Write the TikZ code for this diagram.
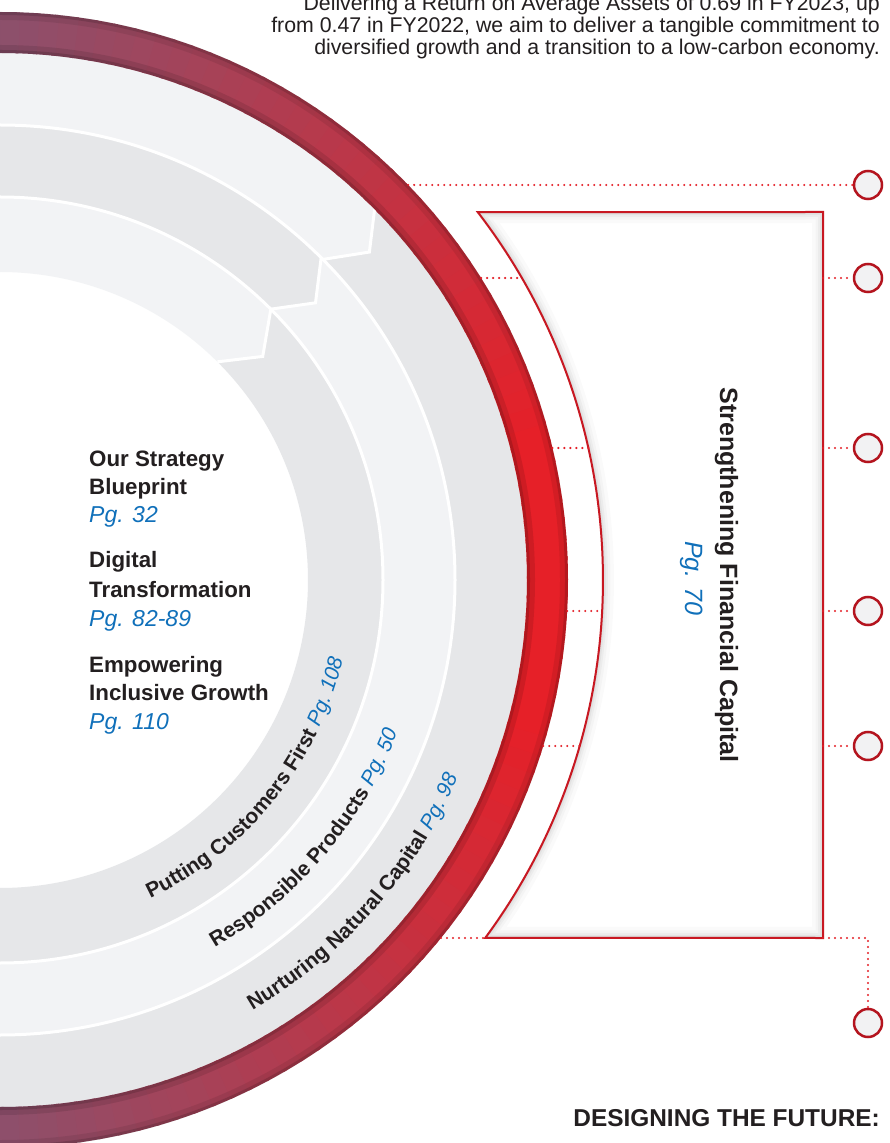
\documentclass[tikz,border=0pt]{standalone}
\usepackage{fontspec}
\setmainfont{Liberation Sans}
\usetikzlibrary{decorations.text}
\definecolor{bandlight}{RGB}{242,243,245}
\definecolor{banddark}{RGB}{230,231,233}
\definecolor{ringred}{RGB}{230,32,40}
\definecolor{ringmaroon}{RGB}{140,80,108}
\definecolor{txtdark}{RGB}{35,31,32}
\definecolor{pgblue}{RGB}{16,112,186}
\definecolor{boxred}{RGB}{200,24,34}
\definecolor{dotred}{RGB}{228,30,38}
\definecolor{knobred}{RGB}{180,20,30}
\definecolor{knobin}{RGB}{242,242,243}
\definecolor{knobout}{RGB}{205,205,207}
\pgfdeclareradialshading{knobshade}{\pgfpoint{0bp}{0bp}}{color(0bp)=(knobin); color(20bp)=(knobin); color(50bp)=(knobout)}
\newcommand\arcbold{\fontsize{21}{24}\selectfont\bfseries\color{txtdark}}
\newcommand\arcpg{\fontsize{21}{24}\selectfont\mdseries\itshape\color{pgblue}}
\begin{document}
\begin{tikzpicture}[x=1pt,y=1pt,
  dotline/.style={dotred, line width=2.4pt, line cap=round, dash pattern=on 0pt off 6pt},
  knob/.style={circle, minimum size=28pt, inner sep=0pt, draw=knobred, line width=2.5pt, shading=knobshade},
  sepline/.style={white, line width=3pt},
  lefttitle/.style={anchor=base west, inner sep=0pt, font=\fontsize{22.3}{26}\selectfont\bfseries, text=txtdark},
  leftpg/.style={anchor=base west, inner sep=0pt, font=\fontsize{23}{26}\selectfont\itshape, text=pgblue},
  paratext/.style={anchor=base east, inner sep=0pt, font=\fontsize{21.3}{25}\selectfont, text=txtdark}]
\useasboundingbox (0,-563) rectangle (890,580);
\fill[white] (0,-563) rectangle (890,580);

% ---------- gray bands ----------
% outer band 455-527
\fill[bandlight] (44.7:527) arc[start angle=44.7,end angle=92,radius=527] -- (92:455) arc[start angle=92,end angle=44.8,radius=455] -- (41.6:494) -- cycle;
\fill[banddark] (44.7:527) -- (41.6:494) -- (44.8:455) arc[start angle=44.8,end angle=-92,radius=455] -- (-92:527) arc[start angle=-92,end angle=44.7,radius=527] -- cycle;
% middle band 383-455
\fill[banddark] (45.1:455) arc[start angle=45.1,end angle=92,radius=455] -- (92:383) arc[start angle=92,end angle=45,radius=383] -- (41.3:420) -- cycle;
\fill[bandlight] (45.1:455) -- (41.3:420) -- (45:383) arc[start angle=45,end angle=-92,radius=383] -- (-92:455) arc[start angle=-92,end angle=45.1,radius=455] -- cycle;
% inner band 308-383
\fill[bandlight] (45:383) arc[start angle=45,end angle=92,radius=383] -- (92:308) arc[start angle=92,end angle=45.1,radius=308] -- (40.4:345) -- cycle;
\fill[banddark] (45:383) -- (40.4:345) -- (45.1:308) arc[start angle=45.1,end angle=-92,radius=308] -- (-92:383) arc[start angle=-92,end angle=45,radius=383] -- cycle;
% separators
\draw[sepline] (0,0) circle[radius=455];
\draw[sepline] (0,0) circle[radius=383];
\draw[sepline, line join=miter] (44.7:527) -- (41.6:494) -- (44.8:455);
\draw[sepline, line join=miter] (45.1:455) -- (41.3:420) -- (45:383);
\draw[sepline, line join=miter] (45:383) -- (40.4:345) -- (45.1:308);

% ---------- red ring ----------
\foreach \a in {-92,-90,...,90} {
  \pgfmathsetmacro\bend{\a+2.4}
  \pgfmathsetmacro\tmix{100*min(1,max(0,(abs(\a+1.2)-15)/75))}
  \fill[ringmaroon!\tmix!ringred] (\a:527) arc[start angle=\a,end angle=\bend,radius=527] -- (\bend:568) arc[start angle=\bend,end angle=\a,radius=568] -- cycle;
}
\draw[black, opacity=0.10, line width=8pt] (0,0) circle[radius=531];
\draw[black, opacity=0.14, line width=3pt] (0,0) circle[radius=528.5];
\draw[black, opacity=0.08, line width=8pt] (0,0) circle[radius=564];
\draw[black, opacity=0.14, line width=3pt] (0,0) circle[radius=566.5];

% ---------- box ----------
\fill[white] (823,368) -- (37.6:603) arc[start angle=37.6,end angle=-36.4,radius=603] -- (823,-358) -- cycle;
\begin{scope}
\clip (823,368) -- (37.6:603) arc[start angle=37.6,end angle=-36.4,radius=603] -- (823,-358) -- cycle;
\foreach \w/\o in {22/0.02,15/0.025,10/0.03,6/0.035,3/0.045}
  \draw[black, opacity=\o, line width=\w] (823,368) -- (37.6:603) arc[start angle=37.6,end angle=-36.4,radius=603] -- (823,-358) -- cycle;
\end{scope}
\draw[boxred, line width=2pt] (823,368) -- (37.6:603) arc[start angle=37.6,end angle=-36.4,radius=603] -- (823,-358) -- cycle;
\node[rotate=-90, anchor=base, inner sep=0pt, font=\fontsize{25}{28}\selectfont\bfseries, text=txtdark] (captitle) at (720,5) {Strengthening Financial Capital};
\node[rotate=-90, anchor=base, inner sep=0pt, font=\fontsize{25}{28}\selectfont\itshape, text=pgblue] (cappg) at (685,1.5) {Pg. 70};

% ---------- knobs and dotted connectors ----------
\node[knob] (k1) at (868,395) {};
\node[knob] (k2) at (868,302) {};
\node[knob] (k3) at (868,132) {};
\node[knob] (k4) at (868,-31) {};
\node[knob] (k5) at (868,-166) {};
\node[knob] (k6) at (868,-443) {};
\coordinate (r1) at (408.2,395);
\coordinate (r2) at (481.1,302);  \coordinate (b2) at (521.9,302); \coordinate (e2) at (823,302);
\coordinate (r3) at (552.4,132);  \coordinate (b3) at (588.4,132); \coordinate (e3) at (823,132);
\coordinate (r4) at (567.2,-31);  \coordinate (b4) at (602.2,-31); \coordinate (e4) at (823,-31);
\coordinate (r5) at (543.2,-166); \coordinate (b5) at (579.7,-166); \coordinate (e5) at (823,-166);
\coordinate (r6) at (441,-358);   \coordinate (b6) at (485.2,-358); \coordinate (e6) at (823,-358);
\coordinate (t6) at (868,-358);
\draw[dotline] (r1) -- (k1.west);
\draw[dotline] (r2) -- (b2); \draw[dotline] (e2) -- (k2.west);
\draw[dotline] (r3) -- (b3); \draw[dotline] (e3) -- (k3.west);
\draw[dotline] (r4) -- (b4); \draw[dotline] (e4) -- (k4.west);
\draw[dotline] (r5) -- (b5); \draw[dotline] (e5) -- (k5.west);
\draw[dotline] (r6) -- (b6); \draw[dotline] (e6) -- (t6) -- (k6.north);

% ---------- arc texts ----------
\path[decorate, decoration={text along path, text align=left,
  text={|\arcbold|Putting Customers First |\arcpg|Pg. 108}}]
  (-64.7:352) arc[start angle=-64.7, end angle=0, radius=352];
\path[decorate, decoration={text along path, text align=left,
  text={|\arcbold|Responsible Products |\arcpg|Pg. 50}}]
  (-59.7:426) arc[start angle=-59.7, end angle=0, radius=426];
\path[decorate, decoration={text along path, text align=left,
  text={|\arcbold|Nurturing Natural Capital |\arcpg|Pg. 98}}]
  (-59.6:499) arc[start angle=-59.6, end angle=0, radius=499];

% ---------- left text ----------
\node[lefttitle] (t1a) at (89,113) {Our Strategy};
\node[lefttitle] (t1b) at (89,85) {Blueprint};
\node[leftpg] (t1c) at (89,57) {Pg. 32};
\node[lefttitle] (t2a) at (89,12) {Digital};
\node[lefttitle] (t2b) at (89,-17) {Transformation};
\node[leftpg] (t2c) at (89,-46) {Pg. 82-89};
\node[lefttitle] (t3a) at (89,-92) {Empowering};
\node[lefttitle] (t3b) at (89,-120) {Inclusive Growth};
\node[leftpg] (t3c) at (89,-149) {Pg. 110};

% ---------- top paragraph ----------
\node[paratext] (p1) at (880,569) {Delivering a Return on Average Assets of 0.69 in FY2023, up};
\node[paratext] (p2) at (880,547) {from 0.47 in FY2022, we aim to deliver a tangible commitment to};
\node[paratext] (p3) at (880,525) {diversified growth and a transition to a low-carbon economy.};

% ---------- bottom heading ----------
\node[anchor=base east, inner sep=0pt, font=\fontsize{24.4}{28}\selectfont\bfseries, text=txtdark] (head) at (880,-546) {DESIGNING THE FUTURE:};
\end{tikzpicture}
\end{document}
